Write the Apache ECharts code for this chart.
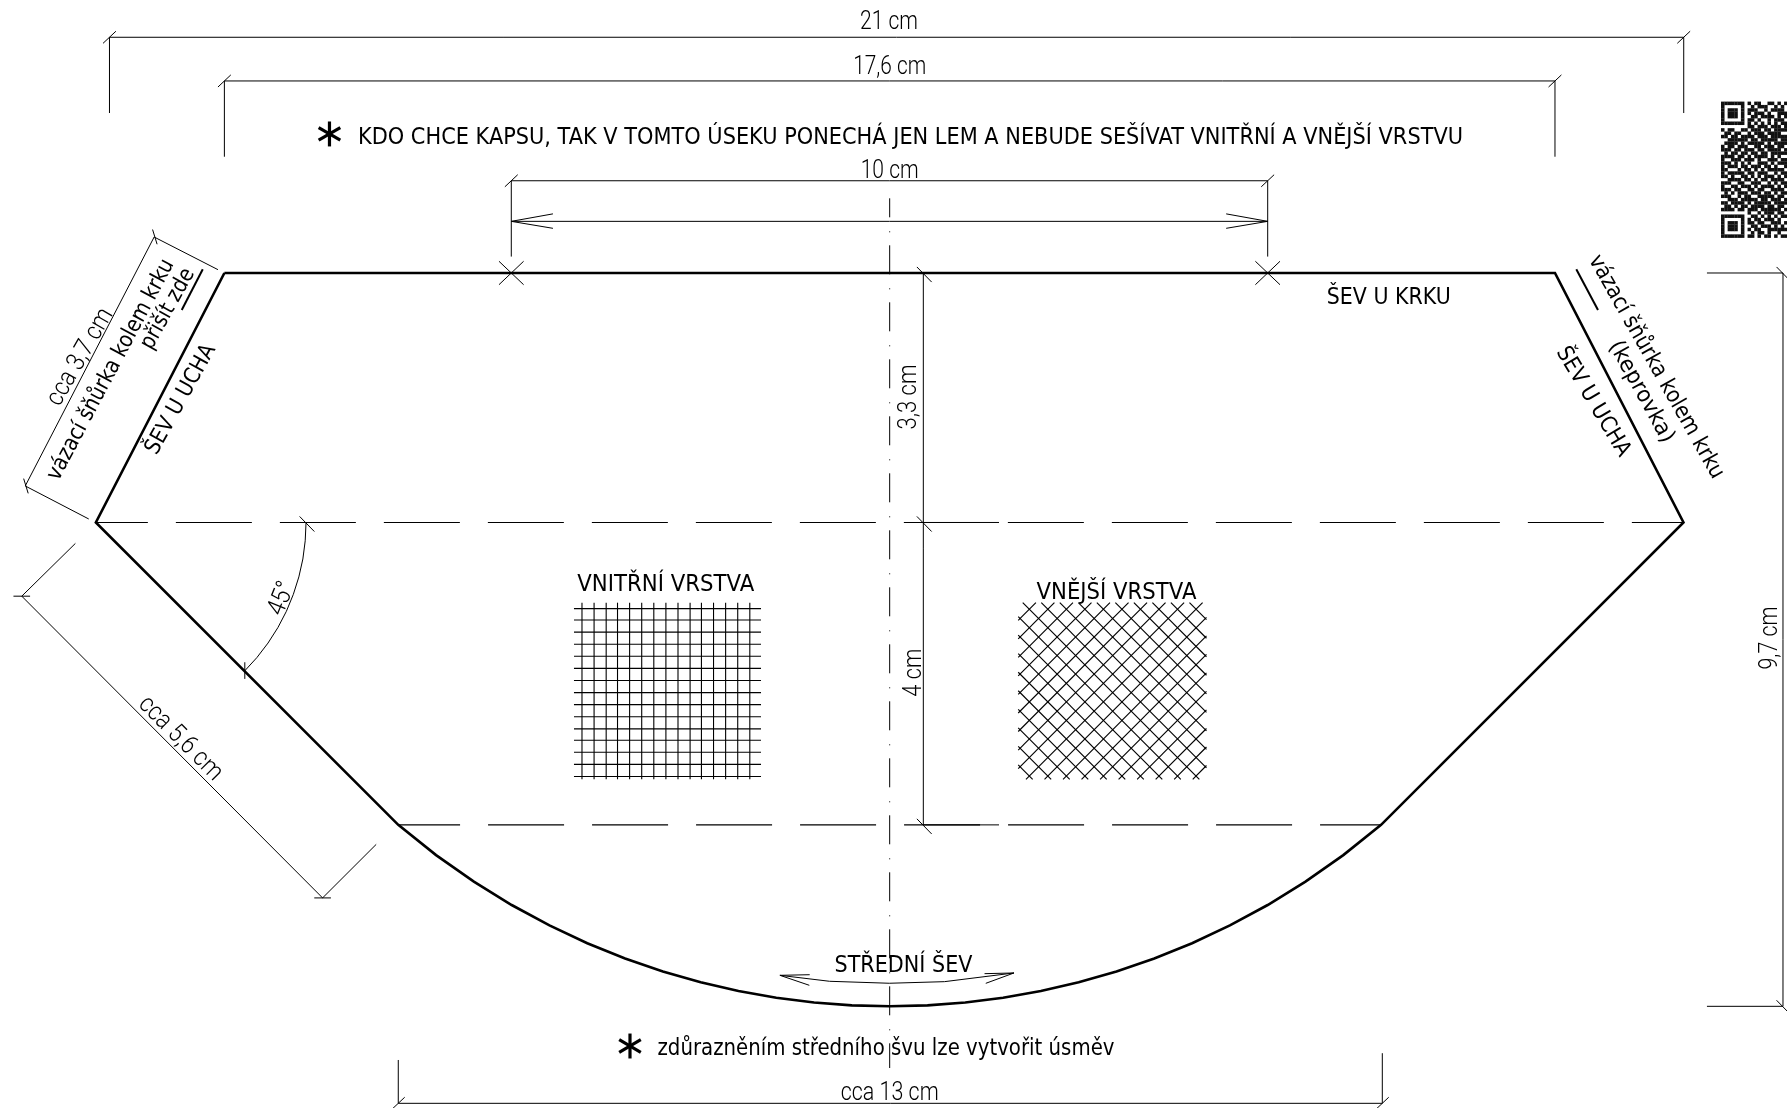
<!DOCTYPE html>
<html>
<head>
<meta charset="utf-8">
<style>html,body{margin:0;padding:0;background:#fff}#c{width:1787px;height:1108px}</style>
<script src="https://cdn.jsdelivr.net/npm/echarts@6/dist/echarts.min.js"></script>
</head>
<body>
<div id="c"></div>
<script>
// All drawing values are in centimetres: x from the centre seam, y down from the neck seam.
const outline = [[-8.8,0],[8.8,0],[10.5,3.3],[6.5,7.3],[6,7.7],[5.5,8.05],[5,8.36],[4.5,8.63],[4,8.865],[3.5,9.067],[3,9.239],[2.5,9.382],[2,9.498],[1.5,9.587],[1,9.65],[0.5,9.687],[0,9.7],[-0.5,9.687],[-1,9.65],[-1.5,9.587],[-2,9.498],[-2.5,9.382],[-3,9.239],[-3.5,9.067],[-4,8.865],[-4.5,8.63],[-5,8.36],[-5.5,8.05],[-6,7.7],[-6.5,7.3],[-10.5,3.3],[-8.8,0]];
const foldUpper = [[-10.5,3.3],[10.5,3.3]];
const foldLower = [[-6.5,7.3],[6.5,7.3]];
const centreSeam = [[0,-0.988],[0,10.516]];
const dimensionLines = [
  [[-10.32,-2.116],[-10.32,-3.118],[10.503,-3.118],[10.503,-2.116]],
  [[-8.8,-1.538],[-8.8,-2.54],[8.8,-2.54],[8.8,-1.538]],
  [[-5.005,-0.217],[-5.005,-1.22],[5,-1.22],[5,-0.217]],
  [[-5.005,-0.683],[5,-0.683]],
  [[-4.454,-0.782],[-5.005,-0.683],[-4.454,-0.591]],
  [[4.451,-0.782],[5,-0.683],[4.451,-0.591]],
  [[0.445,0],[0.445,7.3]],
  [[0.445,3.3],[1.446,3.3]],
  [[0.445,7.3],[1.446,7.3]],
  [[10.81,0],[11.816,0],[11.816,9.7],[10.81,9.7]],
  [[-6.5,10.41],[-6.5,10.983],[6.516,10.983],[6.516,10.32]],
  [[-8.885,-0.044],[-9.729,-0.476],[-11.434,2.817],[-10.594,3.254]],
  [[-10.771,3.577],[-11.48,4.275],[-7.501,8.266],[-6.792,7.558]],
  [[-7.72,3.3],[-7.731,3.542],[-7.762,3.783],[-7.815,4.02],[-7.888,4.251],[-7.98,4.475],[-8.092,4.69],[-8.223,4.895],[-8.37,5.087],[-8.534,5.266]],
  [[-1.452,9.29],[-0.795,9.369],[-0.005,9.395],[0.724,9.374],[1.644,9.259]],
  [[-1.058,9.282],[-1.452,9.29],[-1.063,9.422]],
  [[1.255,9.268],[1.644,9.259],[1.271,9.396]],
  [[-9.75,-0.575],[-9.69,-0.38]],
  [[-11.455,2.72],[-11.395,2.915]],
  [[-11.59,4.275],[-11.37,4.275]],
  [[-7.611,8.266],[-7.391,8.266]],
  [[-8.53,5.149],[-8.53,5.369]]
];
const slashTicks = [[-10.32,-3.118],[10.503,-3.118],[-8.8,-2.54],[8.8,-2.54],[-5.005,-1.22],[5,-1.22],[-6.5,10.983],[6.516,10.983]];
const backslashTicks = [[0.445,0],[0.445,3.3],[0.445,7.3],[11.816,0],[11.816,9.7],[-7.72,3.3]];
const seamCrosses = [[-5.005,0],[5,0]];
const strapMarks = [[[-9.086,-0.049],[-9.364,0.489]],[[9.082,-0.049],[9.369,0.489]]];
const asterisks = [[-7.41,-1.839],[-3.435,10.225]];
const gridXs = [-4.07,-3.91,-3.75,-3.6,-3.44,-3.28,-3.12,-2.96,-2.8,-2.64,-2.49,-2.33,-2.17,-2.01,-1.85];
const gridYs = [4.44,4.59,4.75,4.91,5.07,5.23,5.39,5.55,5.71,5.87,6.03,6.18,6.34,6.5,6.66];
const gridBox = {x0:-4.176,x1:-1.702,y0:4.361,y1:6.697};
const crossBox = {x0:1.7,x1:4.19,y0:4.361,y1:6.697};
const crossSums = [6.295,6.54,6.785,7.03,7.275,7.52,7.765,8.01,8.255,8.5,8.745,8.99,9.235,9.48,9.725,9.97,10.215,10.46,10.705];
const crossDiffs = [-4.806,-4.561,-4.316,-4.071,-3.826,-3.581,-3.336,-3.091,-2.846,-2.601,-2.356,-2.111,-1.866,-1.621,-1.376,-1.131,-0.886,-0.641,-0.396];
const plainLabels = [
  ['KDO CHCE KAPSU, TAK V TOMTO ÚSEKU PONECHÁ JEN LEM A NEBUDE SEŠÍVAT VNITŘNÍ A VNĚJŠÍ VRSTVU',0.275,-1.784,0,1105],
  ['ŠEV U KRKU',6.602,0.337,0,124],
  ['VNITŘNÍ VRSTVA',-2.962,4.13,0,177],
  ['VNĚJŠÍ VRSTVA',3.0,4.236,0,160],
  ['STŘEDNÍ ŠEV',0.183,9.167,0,138],
  ['zdůrazněním středního švu lze vytvořit úsměv',-0.049,10.265,0,457],
  ['vázací šňůrka kolem krku',-10.3,1.283,62,247],
  ['přišít zde',-9.546,0.476,61,89],
  ['ŠEV U UCHA',-9.374,1.673,61,122],
  ['vázací šňůrka kolem krku',10.136,1.243,-60.5,253],
  ['(keprovka)',9.938,1.574,-61,113],
  ['ŠEV U UCHA',9.303,1.706,-59,124]
];
const thinLabels = [
  ['21 cm',-0.009,-3.307,0,58],
  ['17,6 cm',0,-2.718,0,73],
  ['10 cm',0,-1.347,0,58],
  ['3,3 cm',0.262,1.64,90,65],
  ['4 cm',0.328,5.288,90,48],
  ['9,7 cm',11.647,4.828,90,63],
  ['cca 3,7 cm',-10.70,1.114,60,108],
  ['cca 5,6 cm',-9.385,6.162,-45,108],
  ['45°',-8.035,4.311,68,34],
  ['cca 13 cm',0,10.853,0,98]
];
const qrRows = [
"11111110101100110101","10000010010111001010","10111010111001011110","10111010101110100111",
"10111010011011110101","10000010110100101110","11111110101010101011","00000000110111011101",
"10110011011101101111","01101100101110111100","11011011110111011111","00111111011011111011",
"01111010111110101111","10110111001101110110","11101101110110111101","01011011011011011111",
"11110110101111010100","10011101110100111011","11101010100111010111","10111011011101101001",
"11000101101010111110","10111110110111001011","11010011010101110101","00111101101011011110",
"11100110011100101011","10011011101011110101","11101100110110011110","01010111011101101011",
"11100101100111110110","00111011111011011101","11011110101111101111","01101011011110110110",
"11110110111011111101","00000000100101110110","11111110011010101011","10000010101101110100",
"10111010110110011101","10111010011011101010","10111010101100111111","10000010010110100100",
"11111110110101101011"];
const qrOrigin = [10.996,-2.267];
const qrModule = 0.0439;

const seg = (a,b)=>[a,b];
const gridSegs = [
  ...gridXs.map(x=>seg([x,gridBox.y0],[x,gridBox.y1])),
  ...gridYs.map(y=>seg([gridBox.x0,y],[gridBox.x1,y]))
];
const b = crossBox;
const crossSegs = [
  ...crossSums.map(u=>{const a=Math.max(b.x0,u-b.y1),c=Math.min(b.x1,u-b.y0);return seg([a,u-a],[c,u-c]);}),
  ...crossDiffs.map(v=>{const a=Math.max(b.x0,v+b.y0),c=Math.min(b.x1,v+b.y1);return seg([a,a-v],[c,c-v]);})
];
const tickSegs = [
  ...slashTicks.map(([x,y])=>seg([x-0.085,y+0.08],[x+0.085,y-0.08])),
  ...backslashTicks.map(([x,y])=>seg([x-0.085,y-0.08],[x+0.11,y+0.12])),
  ...seamCrosses.flatMap(([x,y])=>[seg([x-0.163,y-0.155],[x+0.163,y+0.155]),seg([x-0.163,y+0.155],[x+0.163,y-0.155])])
];
const asteriskSegs = asterisks.flatMap(([x,y])=>[
  seg([x,y-0.165],[x,y+0.165]),seg([x-0.143,y-0.083],[x+0.143,y+0.083]),seg([x-0.143,y+0.083],[x+0.143,y-0.083])
]);
const qrCells = [];
qrRows.forEach((r,i)=>[...r].forEach((c,j)=>{ if(c==='1') qrCells.push([qrOrigin[0]+j*qrModule,qrOrigin[1]+i*qrModule]); }));

const BLACK='#000';
const lineSeries=(data,width,extra)=>({type:'line',data,symbol:'none',silent:true,animation:false,clip:false,
  lineStyle:Object.assign({color:BLACK,width,join:'miter'},extra||{})});
const segSeries=(list,width,color)=>({type:'lines',coordinateSystem:'cartesian2d',polyline:true,silent:true,animation:false,clip:false,
  data:list.map(coords=>({coords})),lineStyle:{color:color||BLACK,width,opacity:1,curveness:0}});

const measure=document.createElement('canvas').getContext('2d');
function labelSeries(list,family,size,weight){
  return {type:'custom',coordinateSystem:'cartesian2d',silent:true,animation:false,clip:false,
    data:list.map(l=>[l[1],l[2]]),encode:{x:0,y:1},
    renderItem(params,api){
      const l=list[params.dataIndex],p=api.coord([api.value(0),api.value(1)]);
      measure.font=`${weight} ${size}px "${family}"`;
      const w=measure.measureText(l[0]).width;
      return {type:'text',x:p[0],y:p[1],rotation:l[3]*Math.PI/180,scaleX:l[4]/w,
        style:{text:l[0],fontFamily:family,fontSize:size,fontWeight:weight,fill:BLACK,align:'center',verticalAlign:'middle'}};
    }};
}
const qrSeries={type:'custom',coordinateSystem:'cartesian2d',silent:true,animation:false,clip:false,
  data:qrCells,encode:{x:0,y:1},
  renderItem(params,api){
    const p=api.coord([api.value(0),api.value(1)]),s=api.size([qrModule,qrModule]);
    return {type:'rect',shape:{x:p[0],y:p[1],width:s[0]+0.2,height:s[1]+0.2},style:{fill:'#111'}};
  }};

const chart=echarts.init(document.getElementById('c'),null,{renderer:'canvas'});
chart.setOption({
  backgroundColor:'#fff',animation:false,
  grid:{left:0,right:0,top:0,bottom:0,containLabel:false},
  xAxis:{type:'value',min:-11.768,max:11.869,show:false,scale:true},
  yAxis:{type:'value',min:-3.611,max:11.045,inverse:true,show:false,scale:true},
  tooltip:{show:false},legend:{show:false},
  series:[
    lineSeries(foldUpper,1.1,{type:[76,28],dashOffset:24,color:'#000'}),
    lineSeries(foldLower,1.1,{type:[76,28],dashOffset:14.2,color:'#000'}),
    lineSeries(centreSeam,1,{type:[29,14,1,13],dashOffset:10,color:'#000'}),
    segSeries(dimensionLines,1,'#000'),
    segSeries(tickSegs,1,'#000'),
    segSeries(gridSegs,1.1,'#000'),
    segSeries(crossSegs,1.15,'#000'),
    segSeries(strapMarks,2,BLACK),
    segSeries(asteriskSegs,3.2,BLACK),
    lineSeries(outline,2.6),
    labelSeries(plainLabels,'DejaVu Sans',22.5,'normal'),
    labelSeries(thinLabels,'Roboto',26,'300'),
    qrSeries
  ]
});
</script>
</body>
</html>
